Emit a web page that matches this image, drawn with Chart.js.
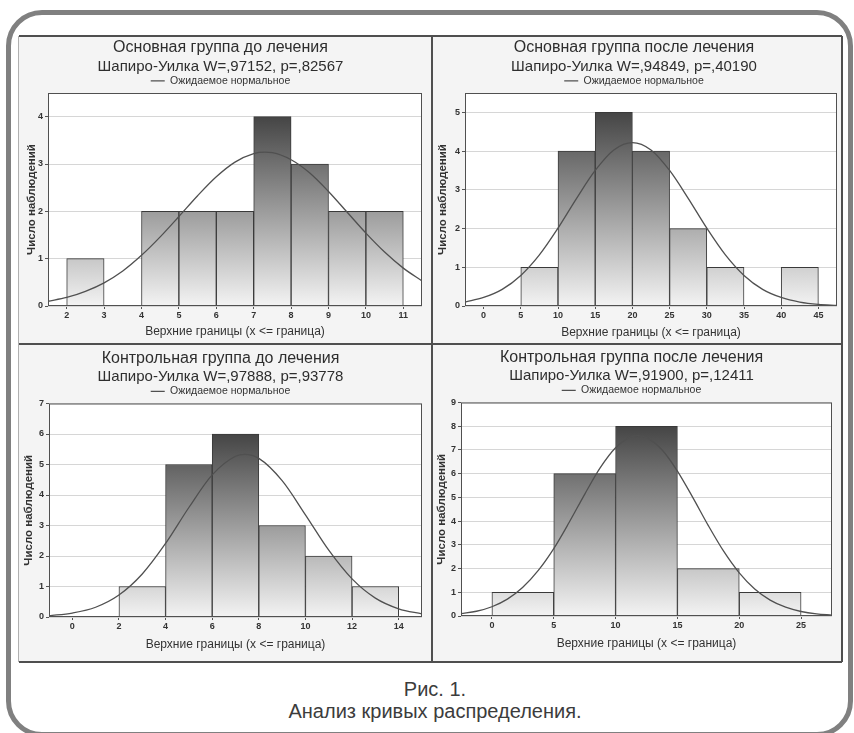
<!DOCTYPE html>
<html>
<head>
<meta charset="utf-8">
<script src="https://cdn.jsdelivr.net/npm/chart.js@4.4.0/dist/chart.umd.min.js"></script>
<style>
body{margin:0;background:#fff;width:854px;height:733px;overflow:hidden;position:relative;font-family:"Liberation Sans",Arial,sans-serif}
#outer{position:absolute;left:6px;top:10px;width:847px;height:727px;box-sizing:border-box;border:5px solid #808080;border-radius:36px}
#frame{position:absolute;left:19px;top:36px;width:823px;height:626px;background:#f4f4f4}
canvas{position:absolute}
.ln{position:absolute;background:#4f4f4f}
#cap{position:absolute;left:0;width:870px;top:678px;text-align:center;font-size:20px;line-height:22px;color:#3c3c3c}
</style>
</head>
<body>
<div id="outer"></div>
<div id="frame"></div>
<canvas id="c1" width="412" height="308" style="left:19px;top:36px"></canvas>
<canvas id="c2" width="411" height="308" style="left:431px;top:36px"></canvas>
<canvas id="c3" width="412" height="318" style="left:19px;top:344px"></canvas>
<canvas id="c4" width="411" height="318" style="left:431px;top:344px"></canvas>
<div class="ln" style="left:19px;top:35px;width:823px;height:2px"></div>
<div class="ln" style="left:19px;top:661px;width:823px;height:2px"></div>
<div class="ln" style="left:18px;top:36px;width:1px;height:626px;background:#b0b0b0"></div>
<div class="ln" style="left:841px;top:36px;width:2px;height:626px"></div>
<div class="ln" style="left:431px;top:36px;width:2px;height:626px"></div>
<div class="ln" style="left:19px;top:343px;width:823px;height:2px"></div>
<div id="cap">Рис. 1.<br>Анализ кривых распределения.</div>
<script>
const xTitle = 'Верхние границы (x <= граница)';
const yTitle = 'Число наблюдений';
const curveLabel = 'Ожидаемое нормальное';

// Основная группа до лечения
const upper1 = [3, 4, 5, 6, 7, 8, 9, 10, 11];
const counts1 = [1, 0, 2, 2, 2, 4, 3, 2, 2];
const xTicks1 = [2, 3, 4, 5, 6, 7, 8, 9, 10, 11];
const curveX1 = [1.5, 2, 2.5, 3, 3.5, 4, 4.5, 5, 5.5, 6, 6.5, 7, 7.3, 7.5, 8, 8.5, 9, 9.5, 10, 10.5, 11, 11.5];
const curveY1 = [0.10, 0.18, 0.31, 0.49, 0.74, 1.07, 1.46, 1.89, 2.33, 2.73, 3.04, 3.22, 3.25, 3.24, 3.09, 2.81, 2.42, 1.98, 1.54, 1.14, 0.80, 0.53];

// Основная группа после лечения
const upper2 = [10, 15, 20, 25, 30, 35, 40, 45];
const counts2 = [1, 4, 5, 4, 2, 1, 0, 1];
const xTicks2 = [0, 5, 10, 15, 20, 25, 30, 35, 40, 45];
const curveX2 = [-2.5, 0, 2.5, 5, 7.5, 10, 12.5, 15, 17.5, 20, 22.5, 25, 27.5, 30, 32.5, 35, 37.5, 40, 42.5, 45, 47.5];
const curveY2 = [0.10, 0.22, 0.43, 0.79, 1.32, 2.01, 2.78, 3.50, 4.03, 4.22, 4.03, 3.50, 2.78, 2.01, 1.32, 0.79, 0.43, 0.22, 0.10, 0.04, 0.015];

// Контрольная группа до лечения
const upper3 = [4, 6, 8, 10, 12, 14];
const counts3 = [1, 5, 6, 3, 2, 1];
const xTicks3 = [0, 2, 4, 6, 8, 10, 12, 14];
const curveX3 = [-1, 0, 1, 2, 3, 4, 5, 6, 7, 7.4, 8, 9, 10, 11, 12, 13, 14, 15];
const curveY3 = [0.04, 0.13, 0.32, 0.72, 1.41, 2.41, 3.59, 4.66, 5.27, 5.33, 5.20, 4.47, 3.35, 2.19, 1.25, 0.62, 0.27, 0.10];

// Контрольная группа после лечения
const upper4 = [5, 10, 15, 20, 25];
const counts4 = [1, 6, 8, 2, 1];
const xTicks4 = [0, 5, 10, 15, 20, 25];
const curveX4 = [-2.5, -1.25, 0, 1.25, 2.5, 3.75, 5, 6.25, 7.5, 8.75, 10, 11.25, 11.8, 12.5, 13.75, 15, 16.25, 17.5, 18.75, 20, 21.25, 22.5, 23.75, 25, 26.25, 27.5];
const curveY4 = [0.10, 0.20, 0.39, 0.71, 1.21, 1.92, 2.84, 3.95, 5.13, 6.24, 7.09, 7.55, 7.60, 7.52, 7.01, 6.11, 4.99, 3.81, 2.72, 1.82, 1.14, 0.67, 0.37, 0.19, 0.09, 0.04];

Chart.defaults.font.family = '"Liberation Sans", Arial, sans-serif';
Chart.defaults.color = '#333';

const plotFrame = {
  id: 'plotFrame',
  beforeDraw(chart) {
    const a = chart.chartArea, c = chart.ctx;
    c.save();
    c.fillStyle = '#fff';
    c.fillRect(a.left, a.top, a.width, a.height);
    c.restore();
  },
  afterDraw(chart) {
    const a = chart.chartArea, c = chart.ctx;
    c.save();
    c.strokeStyle = '#505050';
    c.lineWidth = 1;
    c.strokeRect(a.left + 0.5, a.top + 0.5, a.width - 1, a.height - 1);
    c.restore();
  }
};

function barFill(ctx) {
  const chart = ctx.chart;
  const a = chart.chartArea;
  if (!a) return '#999';
  const top = chart.scales.y.getPixelForValue(Math.max(...ctx.dataset.data.map(d => d.y)));
  const g = chart.ctx.createLinearGradient(0, a.bottom, 0, top);
  g.addColorStop(0, '#f3f3f3');
  g.addColorStop(1, '#454545');
  return g;
}

function makeChart(id, p) {
  const w = p.upper[1] - p.upper[0];
  new Chart(document.getElementById(id), {
    type: 'bar',
    data: {
      datasets: [{
        type: 'bar',
        data: p.upper.map((u, i) => ({x: u - w / 2, y: p.counts[i]})),
        backgroundColor: barFill,
        borderColor: '#3a3a3a',
        borderWidth: 1,
        barPercentage: 1,
        categoryPercentage: 1,
        order: 1
      }, {
        type: 'line',
        label: curveLabel,
        data: p.cx.map((x, i) => ({x: x, y: p.cy[i]})),
        borderColor: '#505050',
        borderWidth: 1.3,
        pointRadius: 0,
        cubicInterpolationMode: 'monotone',
        fill: false,
        order: 0
      }]
    },
    options: {
      responsive: false,
      animation: false,
      layout: {padding: {top: p.padTop, right: p.padRight, left: 0, bottom: 0}},
      plugins: {
        title: {display: true, text: p.title, color: '#2e2e2e',
          font: {size: 16, weight: 'normal', lineHeight: 1.2}, padding: {top: 2.4, bottom: 0}},
        subtitle: {display: true, text: p.sub, color: '#2e2e2e',
          font: {size: 15, weight: 'normal', lineHeight: 1.2}, padding: {top: 0, bottom: 0}},
        legend: {display: true, maxHeight: 17.4,
          labels: {filter: it => it.datasetIndex === 1, usePointStyle: true, pointStyle: 'line',
            pointStyleWidth: 14, padding: 0, color: '#333', font: {size: 10.5}}},
        tooltip: {enabled: false}
      },
      scales: {
        x: {
          type: 'linear', min: p.xmin, max: p.xmax, offset: false,
          afterBuildTicks: s => { s.ticks = p.xticks.map(v => ({value: v})); },
          grid: {display: true, drawOnChartArea: false, tickLength: 3, tickColor: '#555', offset: false},
          border: {display: false},
          ticks: {padding: 1, color: '#333', font: {size: 9, weight: 'bold'}, maxRotation: 0, autoSkip: false},
          title: {display: true, text: xTitle, color: '#333', font: {size: 12},
            padding: {top: 0, bottom: p.xTitlePad}},
          afterFit: s => { s.height = p.xH; }
        },
        y: {
          min: 0, max: p.ymax,
          grid: {color: '#d6d6d6', tickColor: '#555', tickLength: 3},
          border: {display: false},
          ticks: {stepSize: 1, includeBounds: false, padding: 2, color: '#333',
            font: {size: 9, weight: 'bold'}},
          title: {display: true, text: yTitle, color: '#333', font: {size: 11.5, weight: 'bold'},
            padding: {top: p.yTitlePad, bottom: 0}},
          afterFit: s => { s.width = p.yW; }
        }
      }
    },
    plugins: [plotFrame]
  });
}

makeChart('c1', {title: 'Основная группа до лечения', sub: 'Шапиро-Уилка W=,97152, p=,82567',
  upper: upper1, counts: counts1, cx: curveX1, cy: curveY1, xticks: xTicks1,
  xmin: 1.5, xmax: 11.5, ymax: 4.5,
  padTop: 0, padRight: 9, yW: 29, xH: 38, xTitlePad: 4.8, yTitlePad: 6.1});
makeChart('c2', {title: 'Основная группа после лечения', sub: 'Шапиро-Уилка W=,94849, p=,40190',
  upper: upper2, counts: counts2, cx: curveX2, cy: curveY2, xticks: xTicks2,
  xmin: -2.5, xmax: 47.5, ymax: 5.5,
  padTop: 0, padRight: 5, yW: 34, xH: 38, xTitlePad: 4.5, yTitlePad: 5.4});
makeChart('c3', {title: 'Контрольная группа до лечения', sub: 'Шапиро-Уилка W=,97888, p=,93778',
  upper: upper3, counts: counts3, cx: curveX3, cy: curveY3, xticks: xTicks3,
  xmin: -1, xmax: 15, ymax: 7,
  padTop: 2.5, padRight: 9, yW: 30, xH: 45, xTitlePad: 10.5, yTitlePad: 3.4});
makeChart('c4', {title: 'Контрольная группа после лечения', sub: 'Шапиро-Уилка W=,91900, p=,12411',
  upper: upper4, counts: counts4, cx: curveX4, cy: curveY4, xticks: xTicks4,
  xmin: -2.5, xmax: 27.5, ymax: 9,
  padTop: 1.5, padRight: 10, yW: 30, xH: 46, xTitlePad: 11.5, yTitlePad: 3.8});
</script>
</body>
</html>
